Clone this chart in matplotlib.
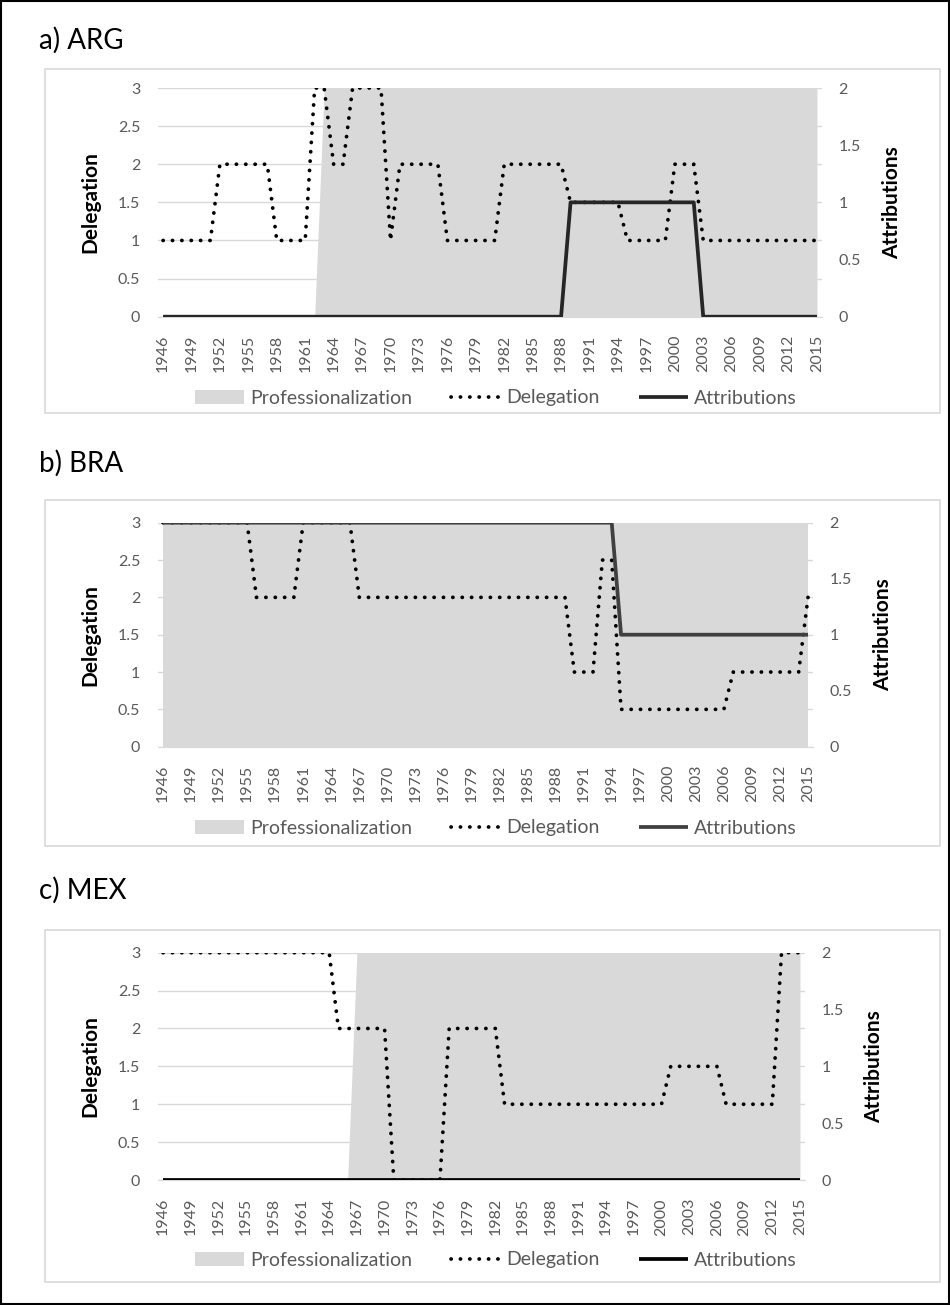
import matplotlib
matplotlib.use("Agg")
import matplotlib.pyplot as plt
from matplotlib.patches import Rectangle

YEARS = list(range(1946, 2016))

# ---- a) ARG ----
ARG_DELEGATION = [
    1, 1, 1, 1, 1, 1, 2, 2, 2, 2,          # 1946-1955
    2, 2, 1, 1, 1, 1, 3, 3, 2, 2,          # 1956-1965
    3, 3, 3, 3, 1, 2, 2, 2, 2, 2,          # 1966-1975
    1, 1, 1, 1, 1, 1, 2, 2, 2, 2,          # 1976-1985
    2, 2, 2, 1.5, 1.5, 1.5, 1.5, 1.5, 1.5, 1,  # 1986-1995
    1, 1, 1, 1, 2, 2, 2, 1, 1, 1,          # 1996-2005
    1, 1, 1, 1, 1, 1, 1, 1, 1, 1,          # 2006-2015
]
ARG_ATTRIBUTIONS = [
    0, 0, 0, 0, 0, 0, 0, 0, 0, 0,
    0, 0, 0, 0, 0, 0, 0, 0, 0, 0,
    0, 0, 0, 0, 0, 0, 0, 0, 0, 0,
    0, 0, 0, 0, 0, 0, 0, 0, 0, 0,
    0, 0, 0, 1, 1, 1, 1, 1, 1, 1,
    1, 1, 1, 1, 1, 1, 1, 0, 0, 0,
    0, 0, 0, 0, 0, 0, 0, 0, 0, 0,
]
ARG_PROF = [
    0, 0, 0, 0, 0, 0, 0, 0, 0, 0,
    0, 0, 0, 0, 0, 0, 0, 1, 1, 1,
    1, 1, 1, 1, 1, 1, 1, 1, 1, 1,
    1, 1, 1, 1, 1, 1, 1, 1, 1, 1,
    1, 1, 1, 1, 1, 1, 1, 1, 1, 1,
    1, 1, 1, 1, 1, 1, 1, 1, 1, 1,
    1, 1, 1, 1, 1, 1, 1, 1, 1, 1,
]

# ---- b) BRA ----
BRA_DELEGATION = [
    3, 3, 3, 3, 3, 3, 3, 3, 3, 3,
    2, 2, 2, 2, 2, 3, 3, 3, 3, 3,
    3, 2, 2, 2, 2, 2, 2, 2, 2, 2,
    2, 2, 2, 2, 2, 2, 2, 2, 2, 2,
    2, 2, 2, 2, 1, 1, 1, 2.5, 2.5, 0.5,
    0.5, 0.5, 0.5, 0.5, 0.5, 0.5, 0.5, 0.5, 0.5, 0.5,
    0.5, 1, 1, 1, 1, 1, 1, 1, 1, 2,
]
BRA_ATTRIBUTIONS = [
    2, 2, 2, 2, 2, 2, 2, 2, 2, 2,
    2, 2, 2, 2, 2, 2, 2, 2, 2, 2,
    2, 2, 2, 2, 2, 2, 2, 2, 2, 2,
    2, 2, 2, 2, 2, 2, 2, 2, 2, 2,
    2, 2, 2, 2, 2, 2, 2, 2, 2, 1,
    1, 1, 1, 1, 1, 1, 1, 1, 1, 1,
    1, 1, 1, 1, 1, 1, 1, 1, 1, 1,
]
BRA_PROF = [
    1, 1, 1, 1, 1, 1, 1, 1, 1, 1,
    1, 1, 1, 1, 1, 1, 1, 1, 1, 1,
    1, 1, 1, 1, 1, 1, 1, 1, 1, 1,
    1, 1, 1, 1, 1, 1, 1, 1, 1, 1,
    1, 1, 1, 1, 1, 1, 1, 1, 1, 1,
    1, 1, 1, 1, 1, 1, 1, 1, 1, 1,
    1, 1, 1, 1, 1, 1, 1, 1, 1, 1,
]

# ---- c) MEX ----
MEX_DELEGATION = [
    3, 3, 3, 3, 3, 3, 3, 3, 3, 3,
    3, 3, 3, 3, 3, 3, 3, 3, 3, 2,
    2, 2, 2, 2, 2, 0, 0, 0, 0, 0,
    0, 2, 2, 2, 2, 2, 2, 1, 1, 1,
    1, 1, 1, 1, 1, 1, 1, 1, 1, 1,
    1, 1, 1, 1, 1, 1.5, 1.5, 1.5, 1.5, 1.5,
    1.5, 1, 1, 1, 1, 1, 1, 3, 3, 3,
]
MEX_ATTRIBUTIONS = [
    0, 0, 0, 0, 0, 0, 0, 0, 0, 0,
    0, 0, 0, 0, 0, 0, 0, 0, 0, 0,
    0, 0, 0, 0, 0, 0, 0, 0, 0, 0,
    0, 0, 0, 0, 0, 0, 0, 0, 0, 0,
    0, 0, 0, 0, 0, 0, 0, 0, 0, 0,
    0, 0, 0, 0, 0, 0, 0, 0, 0, 0,
    0, 0, 0, 0, 0, 0, 0, 0, 0, 0,
]
MEX_PROF = [
    0, 0, 0, 0, 0, 0, 0, 0, 0, 0,
    0, 0, 0, 0, 0, 0, 0, 0, 0, 0,
    0, 1, 1, 1, 1, 1, 1, 1, 1, 1,
    1, 1, 1, 1, 1, 1, 1, 1, 1, 1,
    1, 1, 1, 1, 1, 1, 1, 1, 1, 1,
    1, 1, 1, 1, 1, 1, 1, 1, 1, 1,
    1, 1, 1, 1, 1, 1, 1, 1, 1, 1,
]

LEFT_TICKS = [0, 0.5, 1, 1.5, 2, 2.5, 3]
LEFT_TICK_LABELS = ["0", "0.5", "1", "1.5", "2", "2.5", "3"]
RIGHT_TICKS = [0, 0.5, 1, 1.5, 2]
RIGHT_TICK_LABELS = ["0", "0.5", "1", "1.5", "2"]

W, H = 950, 1305
TICK_GREY = "#595959"
AREA_GREY = "#d9d9d9"
FONT = ["Lato", "DejaVu Sans"]

plt.rcParams["font.family"] = FONT

# panel layout in pixels: title, panel box, plot area, legend y, line colour
PANELS = [
    dict(title="a) ARG", title_y=40, box=(45, 69, 940, 413), plot=(158.3, 88, 821.7, 316.7),
         legend_y=398, att_color="#262626",
         dele=ARG_DELEGATION, att=ARG_ATTRIBUTIONS, prof=ARG_PROF),
    dict(title="b) BRA", title_y=463, box=(45, 500, 940, 846), plot=(158.3, 522.7, 812.7, 746.7),
         legend_y=828, att_color="#404040",
         dele=BRA_DELEGATION, att=BRA_ATTRIBUTIONS, prof=BRA_PROF),
    dict(title="c) MEX", title_y=890, box=(45, 930, 940, 1282), plot=(158.4, 952.7, 804.6, 1180),
         legend_y=1260, att_color="#000000",
         dele=MEX_DELEGATION, att=MEX_ATTRIBUTIONS, prof=MEX_PROF),
]


def px_rect(x0, y0, x1, y1):
    return [x0 / W, 1 - y1 / H, (x1 - x0) / W, (y1 - y0) / H]


def draw_panel(fig, p):
    bx0, by0, bx1, by1 = p["box"]
    fig.patches.append(Rectangle((bx0 / W, 1 - by1 / H), (bx1 - bx0) / W, (by1 - by0) / H,
                                 transform=fig.transFigure, facecolor="none",
                                 edgecolor="#d9d9d9", linewidth=1.2, zorder=-1))
    fig.text(39 / W, 1 - p["title_y"] / H, p["title"], fontsize=20, va="center", ha="left",
             color="#000000")

    x0, y0, x1, y1 = p["plot"]
    ax = fig.add_axes(px_rect(x0, y0, x1, y1))
    ax.set_facecolor("none")
    xs = list(range(len(YEARS)))

    area = ax.fill_between(xs, 0, p["prof"], transform=ax.get_xaxis_transform(),
                           color=AREA_GREY, linewidth=0, zorder=1, label="Professionalization")
    dele_line, = ax.plot(xs, p["dele"], color="black", linewidth=2.7,
                         linestyle=(0, (0.05, 2.45)), dash_capstyle="round", zorder=3,
                         label="Delegation")
    ax.set_xlim(-0.5, len(YEARS) - 0.5)
    ax.set_ylim(0, 3)
    ax.set_yticks(LEFT_TICKS)
    ax.set_yticklabels(LEFT_TICK_LABELS)
    ax.set_xticks(xs[::3])
    ax.set_xticklabels([str(y) for y in YEARS[::3]], rotation=90)
    ax.grid(axis="y", color="#d9d9d9", linewidth=1.0, zorder=0)
    ax.set_axisbelow(True)
    ax.tick_params(axis="y", length=0, pad=13, labelsize=11.5, labelcolor=TICK_GREY)
    ax.tick_params(axis="x", length=0, pad=13, labelsize=11.5, labelcolor=TICK_GREY)
    for side in ["top", "left", "right"]:
        ax.spines[side].set_visible(False)
    ax.spines["bottom"].set_color("#d9d9d9")

    ax2 = ax.twinx()
    att_line, = ax2.plot(xs, p["att"], color=p["att_color"], linewidth=2.7,
                         solid_capstyle="butt", zorder=4, label="Attributions")
    ax2.set_ylim(0, 2)
    ax2.set_yticks(RIGHT_TICKS)
    ax2.set_yticklabels(RIGHT_TICK_LABELS)
    ax2.tick_params(axis="y", length=0, pad=12, labelsize=11.5, labelcolor=TICK_GREY)
    for side in ax2.spines:
        ax2.spines[side].set_visible(False)

    ymid = 1 - (y0 + y1) / 2 / H
    fig.text(90 / W, ymid, "Delegation", rotation=90, fontsize=15, fontweight="bold",
             ha="center", va="center")
    fig.text((x1 + 70) / W, ymid, "Attributions", rotation=90, fontsize=15,
             fontweight="bold", ha="center", va="center")

    handles = [area, dele_line, att_line]
    labels = ["Professionalization", "Delegation", "Attributions"]
    leg = fig.legend(handles, labels, loc="center", ncol=3, frameon=False,
                     bbox_to_anchor=(496 / W, 1 - p["legend_y"] / H),
                     fontsize=14, handlelength=2.5, handletextpad=0.35, columnspacing=2.0)
    for t in leg.get_texts():
        t.set_color(TICK_GREY)


fig = plt.figure(figsize=(W / 100, H / 100), dpi=100)
fig.patch.set_facecolor("white")
for panel in PANELS:
    draw_panel(fig, panel)

fig.patches.append(Rectangle((0.001, 0.0008), 0.998, 0.9984, transform=fig.transFigure,
                             facecolor="none", edgecolor="black", linewidth=1.5, zorder=10))

fig.savefig("out.png", dpi=100)
